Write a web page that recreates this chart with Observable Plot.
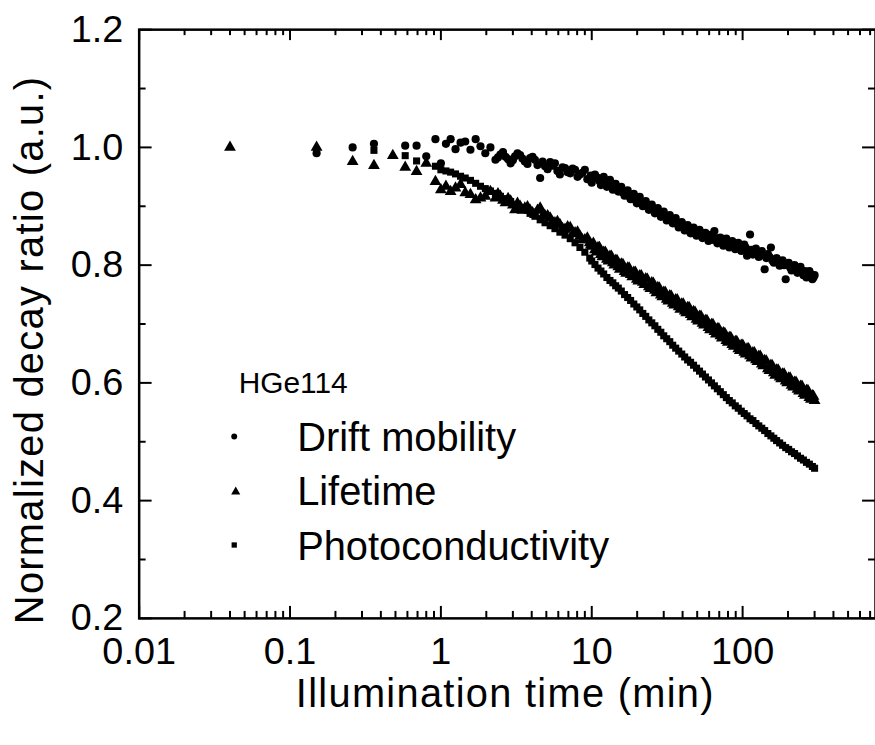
<!DOCTYPE html>
<html>
<head>
<meta charset="utf-8">
<script src="https://cdn.jsdelivr.net/npm/d3@7"></script>
<script src="https://cdn.jsdelivr.net/npm/@observablehq/plot@0.6"></script>
<style>
  html, body { margin: 0; padding: 0; background: #fff; overflow: hidden; }
  #wrap { width: 875px; height: 745px; overflow: hidden; }
</style>
</head>
<body>
<div id="wrap"></div>
<script>
// Illumination time (min), shared by the three series
const times = [0.04, 0.15, 0.26, 0.36, 0.48, 0.58, 0.69, 0.8, 0.92, 1.0,
  1.08, 1.16, 1.25, 1.35, 1.45, 1.57, 1.7, 1.83, 1.97, 2.13, 2.3, 2.48, 2.68, 2.9, 3.1, 3.35, 3.6, 3.9, 4.2, 4.55,
  4.9, 5.3, 5.7, 6.15, 6.65, 7.2, 7.75, 8.35, 9.0, 9.7,
  10, 10.5, 11, 11.5, 12, 12.6, 13.2, 13.8, 14.4, 15,
  15.7, 16.5, 17.3, 18.1, 19, 19.9, 20.8, 21.8, 22.8, 23.9,
  25, 26.2, 27.4, 28.7, 30, 31.4, 32.9, 34.4, 36, 37.7,
  39.5, 41.3, 43.2, 45.2, 47.3, 49.5, 51.8, 54.2, 56.7, 59.4,
  62.2, 65, 68, 71.2, 74.5, 78, 81.6, 85.4, 89.4, 93.6,
  98, 102.5, 107, 112, 117, 122.5, 128, 134, 140, 147,
  154, 161, 168, 176, 184, 193, 202, 211, 221, 231,
  242, 253, 265, 277, 290, 300];

// Drift mobility (circles)
const driftMobility = [null, 0.990, 1.000, 1.006, null, 1.003, 1.003, 0.985, 1.014, 0.973,
  1.006, 1.014, 0.997, 1.008, 1.010, 0.996, 1.014, 1.002, 0.990, 1.000, 0.979, 0.988, 0.984, 0.973, 0.985, 0.987, 0.976, 0.982, 0.979, 0.948,
  0.968, 0.975, 0.973, 0.954, 0.965, 0.956, 0.962, 0.954, 0.962, 0.945,
  0.940, 0.954, 0.948, 0.936, 0.950, 0.933, 0.945, 0.928, 0.938, 0.925,
  0.933, 0.918, 0.927, 0.912, 0.921, 0.905, 0.916, 0.900, 0.909, 0.894,
  0.903, 0.888, 0.897, 0.882, 0.891, 0.876, 0.885, 0.871, 0.880, 0.864,
  0.873, 0.859, 0.868, 0.854, 0.864, 0.850, 0.860, 0.846, 0.855, 0.841,
  0.852, 0.858, 0.837, 0.847, 0.833, 0.845, 0.830, 0.841, 0.827, 0.838,
  0.824, 0.835, 0.816, 0.852, 0.818, 0.828, 0.814, 0.824, 0.793, 0.819,
  0.830, 0.804, 0.812, 0.799, 0.808, 0.776, 0.804, 0.791, 0.800, 0.787,
  0.797, 0.783, 0.779, 0.790, 0.776, 0.783];

// Lifetime (triangles)
const lifetime = [1.000, 1.000, 0.976, 0.969, 0.986, 0.966, 0.959, 0.973, 0.942, 0.928,
  0.934, 0.925, 0.931, 0.937, 0.923, 0.920, 0.911, 0.914, 0.917, 0.925, 0.914, 0.917, 0.906, 0.909, 0.894, 0.900, 0.897, 0.893, 0.886, 0.897,
  0.884, 0.880, 0.872, 0.869, 0.861, 0.864, 0.855, 0.849, 0.843, 0.838,
  0.832, 0.826, 0.830, 0.818, 0.822, 0.810, 0.815, 0.804, 0.808, 0.797,
  0.802, 0.789, 0.795, 0.784, 0.788, 0.776, 0.782, 0.771, 0.777, 0.763,
  0.770, 0.757, 0.762, 0.749, 0.754, 0.742, 0.748, 0.735, 0.741, 0.729,
  0.734, 0.722, 0.728, 0.716, 0.721, 0.708, 0.713, 0.701, 0.706, 0.694,
  0.699, 0.687, 0.692, 0.680, 0.685, 0.672, 0.677, 0.665, 0.670, 0.658,
  0.664, 0.652, 0.658, 0.646, 0.651, 0.639, 0.645, 0.632, 0.638, 0.624,
  0.630, 0.617, 0.622, 0.610, 0.615, 0.603, 0.608, 0.596, 0.601, 0.589,
  0.594, 0.582, 0.587, 0.575, 0.578, 0.570];

// Photoconductivity (squares)
const photoconductivity = [null, 0.995, null, 0.995, null, 0.986, 0.977, null, 0.968, 0.962,
  0.960, 0.958, 0.955, 0.951, 0.948, 0.944, 0.939, 0.934, 0.930, 0.926, 0.922, 0.917, 0.913, 0.908, 0.903, 0.898, 0.894, 0.888, 0.883, 0.877,
  0.872, 0.867, 0.862, 0.856, 0.851, 0.845, 0.838, 0.830, 0.822, 0.812,
  0.807, 0.801, 0.795, 0.790, 0.785, 0.779, 0.774, 0.770, 0.765, 0.761,
  0.756, 0.750, 0.745, 0.740, 0.734, 0.729, 0.724, 0.718, 0.713, 0.707,
  0.702, 0.697, 0.691, 0.686, 0.680, 0.675, 0.670, 0.664, 0.659, 0.654,
  0.649, 0.644, 0.639, 0.635, 0.630, 0.625, 0.620, 0.615, 0.610, 0.605,
  0.600, 0.595, 0.590, 0.585, 0.580, 0.575, 0.570, 0.566, 0.561, 0.557,
  0.552, 0.548, 0.544, 0.539, 0.536, 0.531, 0.527, 0.523, 0.519, 0.514,
  0.510, 0.506, 0.502, 0.498, 0.494, 0.490, 0.487, 0.483, 0.480, 0.476,
  0.472, 0.469, 0.465, 0.462, 0.458, 0.455];

// Additional readings in between (dense scatter of drift mobility and lifetime)
const timesB = [2.39, 2.58, 2.79, 3.0, 3.22, 3.47, 3.75, 4.05, 4.37, 4.72,
  5.1, 5.5, 5.92, 6.4, 6.92, 7.47, 8.05, 8.67, 9.35, 9.85,
  10.25, 10.75, 11.25, 11.75, 12.3, 12.9, 13.5, 14.1, 14.7, 15.35,
  16.1, 16.9, 17.7, 18.55, 19.45, 20.35, 21.3, 22.3, 23.35, 24.45,
  25.6, 26.8, 28.05, 29.35, 30.7, 32.15, 33.65, 35.2, 36.85, 38.6,
  40.4, 42.25, 44.2, 46.25, 48.4, 50.65, 53, 55.45, 58.05, 60.8,
  63.6, 66.5, 69.6, 72.85, 76.25, 79.8, 83.5, 87.4, 91.5, 95.8,
  100.25, 104.75, 109.5, 114.5, 119.75, 125.25, 131, 137, 143.5, 150.5,
  157.5, 164.5, 172, 180, 188.5, 197.5, 206.5, 216, 226, 236.5,
  247.5, 259, 271, 283.5, 295];
const driftMobilityB = [0.983, 0.992, 0.980, 0.978, 0.990, 0.981, 0.972, 0.984, 0.970, 0.976,
  0.963, 0.969, 0.960, 0.966, 0.958, 0.964, 0.950, 0.957, 0.946, 0.952,
  0.947, 0.949, 0.943, 0.945, 0.938, 0.939, 0.933, 0.935, 0.928, 0.930,
  0.923, 0.924, 0.917, 0.918, 0.911, 0.913, 0.906, 0.907, 0.900, 0.901,
  0.894, 0.895, 0.888, 0.889, 0.882, 0.883, 0.876, 0.877, 0.870, 0.871,
  0.864, 0.866, 0.860, 0.862, 0.855, 0.857, 0.851, 0.853, 0.847, 0.849,
  0.843, 0.846, 0.840, 0.842, 0.837, 0.839, 0.834, 0.836, 0.831, 0.833,
  0.827, 0.830, 0.824, 0.826, 0.820, 0.823, 0.817, 0.818, 0.812, 0.814,
  0.808, 0.810, 0.804, 0.806, 0.800, 0.802, 0.796, 0.798, 0.792, 0.794,
  0.788, 0.790, 0.784, 0.785, 0.779];
const lifetimeB = [0.921, 0.910, 0.913, 0.902, 0.905, 0.893, 0.899, 0.889, 0.893, 0.883,
  0.884, 0.873, 0.874, 0.862, 0.865, 0.853, 0.856, 0.843, 0.846, 0.834,
  0.837, 0.822, 0.830, 0.814, 0.822, 0.807, 0.815, 0.800, 0.808, 0.793,
  0.801, 0.786, 0.795, 0.780, 0.788, 0.773, 0.782, 0.767, 0.776, 0.760,
  0.769, 0.753, 0.761, 0.746, 0.754, 0.739, 0.747, 0.732, 0.741, 0.725,
  0.734, 0.719, 0.728, 0.712, 0.720, 0.705, 0.713, 0.698, 0.706, 0.690,
  0.699, 0.683, 0.692, 0.676, 0.684, 0.669, 0.677, 0.662, 0.670, 0.655,
  0.664, 0.649, 0.658, 0.642, 0.651, 0.636, 0.645, 0.629, 0.637, 0.621,
  0.629, 0.613, 0.622, 0.607, 0.615, 0.600, 0.608, 0.593, 0.601, 0.586,
  0.594, 0.579, 0.587, 0.572, 0.577];

// Axes
const xMajorTicks = [0.01, 0.1, 1, 10, 100];
const xTickLabels = ["0.01", "0.1", "1", "10", "100"];
const xMinorTicks = [0.02,0.03,0.04,0.05,0.06,0.07,0.08,0.09,
  0.2,0.3,0.4,0.5,0.6,0.7,0.8,0.9, 2,3,4,5,6,7,8,9, 20,30,40,50,60,70,80,90,
  200,300,400,500,600,700];
const yMajorTicks = [0.2, 0.4, 0.6, 0.8, 1.0, 1.2];
const yTickLabels = ["0.2", "0.4", "0.6", "0.8", "1.0", "1.2"];
const yMinorTicks = [0.3, 0.5, 0.7, 0.9, 1.1];

const seriesNames = ["Drift mobility", "Lifetime", "Photoconductivity"];
const seriesSymbols = ["circle", "triangle", "square"];
const sampleName = "HGe114";
const xTitle = "Illumination time (min)";
const yTitle = "Normalized decay ratio (a.u.)";

const rows = [];
[driftMobility, lifetime, photoconductivity].forEach((vals, s) => {
  vals.forEach((v, i) => { if (v != null) rows.push({t: times[i], v, s}); });
});
[driftMobilityB, lifetimeB].forEach((vals, s) => {
  vals.forEach((v, i) => { if (v != null) rows.push({t: timesB[i], v, s}); });
});

const W = 879, H = 745;
const mL = 139.3, mR = 0, mT = 29.3, mB = 124.3;
const fw = W - mL - mR, fh = H - mT - mB;
const font = "'Liberation Sans', Arial, Helvetica, sans-serif";

const dotSizes = {circle: 4.1, triangle: 4.4, square: 4.0};
const legendDotSizes = {circle: 3.0, triangle: 3.4, square: 3.0};

const marks = [];
// data
seriesSymbols.forEach((sym, s) => {
  marks.push(Plot.dot(rows.filter(d => d.s === s), {
    x: "t", y: "v", symbol: sym, r: dotSizes[sym], fill: "black", stroke: "none"
  }));
});
// frame
marks.push(Plot.frame({stroke: "black", strokeWidth: 2.5}));
// inward ticks
marks.push(Plot.ruleX(xMajorTicks, {x: d => d, insetTop: fh - 12, strokeWidth: 2}));
marks.push(Plot.ruleX(xMinorTicks, {x: d => d, insetTop: fh - 7, strokeWidth: 2}));
marks.push(Plot.ruleX(xMajorTicks, {x: d => d, insetBottom: fh - 11, strokeWidth: 2}));
marks.push(Plot.ruleX(xMinorTicks, {x: d => d, insetBottom: fh - 6, strokeWidth: 2}));
marks.push(Plot.ruleY(yMajorTicks, {y: d => d, insetRight: fw - 13, strokeWidth: 2}));
marks.push(Plot.ruleY(yMinorTicks, {y: d => d, insetRight: fw - 7, strokeWidth: 2}));
marks.push(Plot.ruleY(yMajorTicks, {y: d => d, insetLeft: fw - 13, strokeWidth: 2}));
marks.push(Plot.ruleY(yMinorTicks, {y: d => d, insetLeft: fw - 7, strokeWidth: 2}));
// tick labels
marks.push(Plot.axisX(xMajorTicks, {anchor: "bottom", tickSize: 0, tickPadding: 19, fontSize: 38,
  tickFormat: (d) => xTickLabels[xMajorTicks.indexOf(d)], label: null}));
marks.push(Plot.axisY(yMajorTicks, {anchor: "left", tickSize: 0, tickPadding: 16, fontSize: 38,
  tickFormat: (d) => yTickLabels[yMajorTicks.indexOf(d)], label: null}));
// axis titles
marks.push(Plot.text([xTitle], {text: d => d, frameAnchor: "bottom", dx: -2, dy: 76,
  textAnchor: "middle", lineAnchor: "middle", fontSize: 40, fill: "black"}));
marks.push(Plot.text([yTitle], {text: d => d, frameAnchor: "left", rotate: -90, dx: -109, dy: 26,
  textAnchor: "middle", lineAnchor: "middle", fontSize: 40, fill: "black"}));
// legend
marks.push(Plot.text([sampleName], {text: d => d, frameAnchor: "top-left", dx: 100, dy: 355,
  textAnchor: "start", lineAnchor: "middle", fontSize: 30, fill: "black"}));
seriesNames.forEach((name, i) => {
  const sym = seriesSymbols[i];
  marks.push(Plot.dot([name], {frameAnchor: "top-left", dx: 95.5 + (sym === "triangle" ? 1.5 : 0),
    dy: 408.7 + i * 54.5 + (sym === "triangle" ? 1 : 0), symbol: sym, r: legendDotSizes[sym], fill: "black", stroke: "none"}));
  marks.push(Plot.text([name], {text: d => d, frameAnchor: "top-left", dx: 158.7, dy: 410.2 + i * 54.7,
    textAnchor: "start", lineAnchor: "middle", fontSize: 40, fill: "black"}));
});

const chart = Plot.plot({
  width: W, height: H,
  marginLeft: mL, marginRight: mR, marginTop: mT, marginBottom: mB,
  style: {fontFamily: font, background: "white", color: "black", overflow: "visible"},
  x: {type: "log", domain: [0.01, 760]},
  y: {domain: [0.2, 1.2]},
  marks
});
for (const t of chart.querySelectorAll("text")) {
  if (t.textContent === xTitle || t.textContent === yTitle) t.style.letterSpacing = "1.3px";
}
document.getElementById("wrap").appendChild(chart);
</script>
</body>
</html>
